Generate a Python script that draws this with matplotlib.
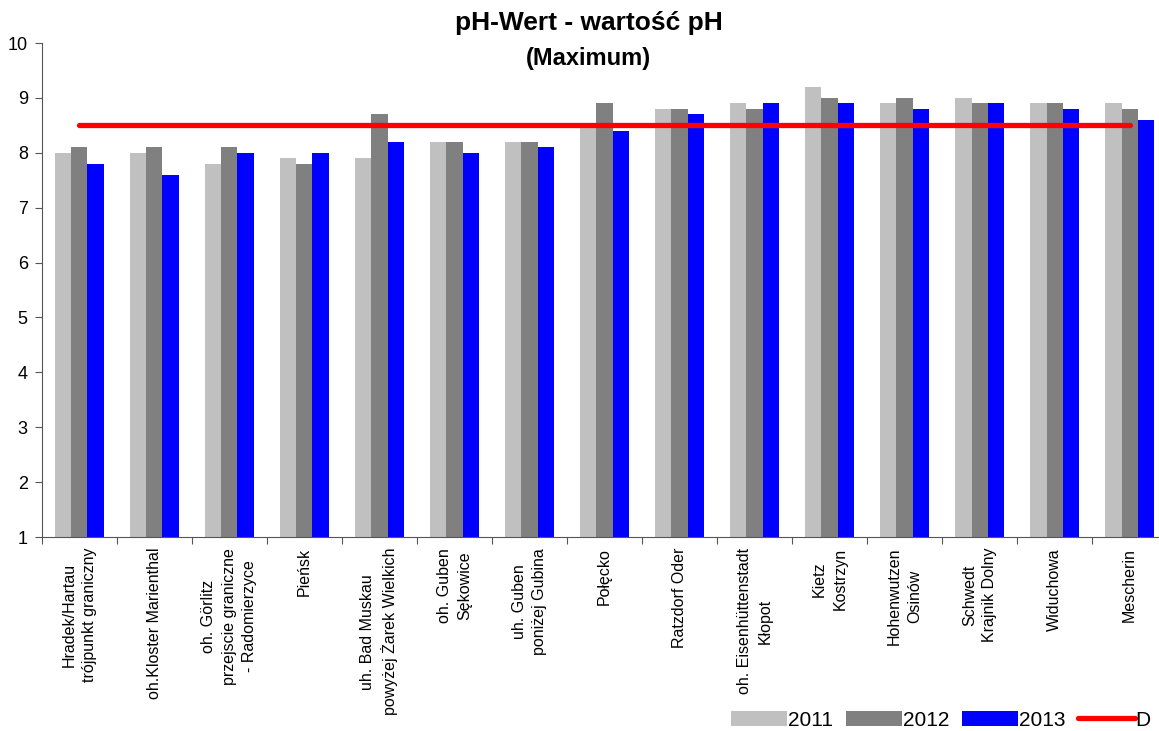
import matplotlib.pyplot as plt
import numpy as np

plt.rcParams['font.family'] = ['Liberation Sans', 'DejaVu Sans']

stations = [
    "Hradek/Hartau\ntrójpunkt graniczny",
    "oh.Kloster Marienthal",
    "oh. Görlitz\nprzejscie graniczne\n- Radomierzyce",
    "Pieńsk",
    "uh. Bad Muskau\npowyżej Żarek Wielkich",
    "oh. Guben\nSękowice",
    "uh. Guben\nponiżej Gubina",
    "Połęcko",
    "Ratzdorf Oder",
    "oh. Eisenhüttenstadt\nKłopot",
    "Kietz\nKostrzyn",
    "Hohenwutzen\nOsinów",
    "Schwedt\nKrajnik Dolny",
    "Widuchowa",
    "Mescherin",
]
ph_2011 = [8.0, 8.0, 7.8, 7.9, 7.9, 8.2, 8.2, 8.5, 8.8, 8.9, 9.2, 8.9, 9.0, 8.9, 8.9]
ph_2012 = [8.1, 8.1, 8.1, 7.8, 8.7, 8.2, 8.2, 8.9, 8.8, 8.8, 9.0, 9.0, 8.9, 8.9, 8.8]
ph_2013 = [7.8, 7.6, 8.0, 8.0, 8.2, 8.0, 8.1, 8.4, 8.7, 8.9, 8.9, 8.8, 8.9, 8.8, 8.6]
limit_d = 8.5

fig = plt.figure(figsize=(11.59, 7.31), dpi=100)
ax = fig.add_axes([41.7 / 1159, 1 - 537 / 731, 1 - 41.7 / 1159, (537 - 43) / 731])

x = np.arange(len(stations))
w = 0.217
b1 = ax.bar(x - w, np.array(ph_2011) - 1, w, bottom=1, color='#c0c0c0')
b2 = ax.bar(x, np.array(ph_2012) - 1, w, bottom=1, color='#808080')
b3 = ax.bar(x + w, np.array(ph_2013) - 1, w, bottom=1, color='#0000ff')
ln, = ax.plot(x, [limit_d] * len(x), color='#ff0000', lw=3.8, solid_capstyle='round')

ax.set_ylim(1, 10)
ax.set_xlim(-0.5, 14.39)
ax.set_yticks(range(1, 11))
ax.set_xticks(np.arange(-0.5, 14.5, 1.0))
ax.set_xticklabels([])
ax.tick_params(axis='both', direction='out', length=5, color='#555555', labelsize=13)
ax.tick_params(axis='y', pad=5)
for s in ['top', 'right']:
    ax.spines[s].set_visible(False)
for s in ['left', 'bottom']:
    ax.spines[s].set_color('#555555')

for i, name in enumerate(stations):
    ax.text(i, 0.8, name, rotation=90, ha='center', va='top', multialignment='center',
            fontsize=11.5, linespacing=1.45, transform=ax.transData, clip_on=False)

fig.text(0.508, 0.968, "pH-Wert - wartość pH", ha='center', va='center',
         fontsize=19, fontweight='bold')
fig.text(0.508, 0.920, "(Maximum)", ha='center', va='center',
         fontsize=17, fontweight='bold')

fig.legend([b1, b2, b3, ln], ['2011', '2012', '2013', 'D'],
           loc='center right', bbox_to_anchor=(1.0, 1 - 720 / 731), ncol=4, frameon=False,
           fontsize=15, handlelength=2.7, handleheight=0.75, handletextpad=0.05,
           columnspacing=0.6, borderaxespad=0)

fig.savefig('out.png', dpi=100)
